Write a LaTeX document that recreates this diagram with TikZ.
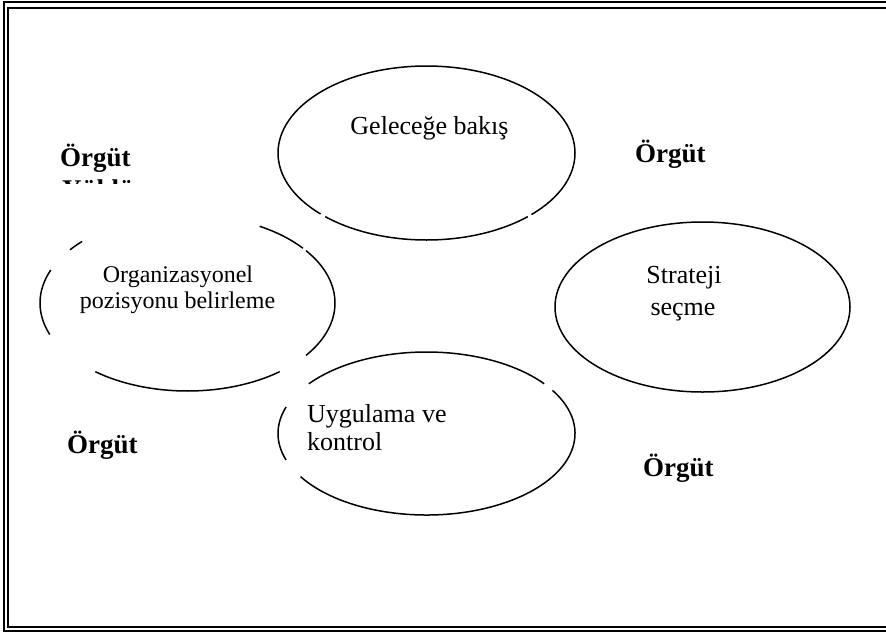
\documentclass[tikz,border=0pt]{standalone}
\usepackage{fontspec}
\setmainfont{Liberation Serif}
\newcommand{\ellarc}[6]{\draw[ell] ([shift={(#5:#3pt and #4pt)}]#1,#2) arc[start angle=#5,end angle=#6,x radius=#3pt,y radius=#4pt];}
\begin{document}
\begin{tikzpicture}[x=1pt,y=-1pt]
\tikzset{
 frameline/.style={line width=2pt,black},
 ell/.style={line width=1.5pt,black},
 lbl/.style={inner sep=0pt,font=\fontsize{26}{28}\selectfont},
 smalllbl/.style={inner sep=0pt,font=\fontsize{24}{26}\selectfont},
 orglbl/.style={inner sep=0pt,font=\bfseries\fontsize{27}{29}\selectfont,anchor=base west},
}
\useasboundingbox (0,0) rectangle (886,632);
\fill[white] (0,0) rectangle (886,632);
% frame
\draw[frameline] (3.5,2) rectangle (896,631);
\draw[frameline] (7.5,7.5) rectangle (892,627);
% ellipse 1: Gelecege bakis
\ellarc{426.5}{153}{148.5}{87}{227}{313}
\ellarc{426.5}{153}{148.5}{87}{315}{584.5}
% ellipse 2: Organizasyonel
\ellarc{187.5}{303}{147.5}{88}{135.6}{142.8}
\ellarc{187.5}{303}{147.5}{88}{158}{201}
\ellarc{187.5}{303}{147.5}{88}{231.3}{308.7}
\ellarc{187.5}{303}{147.5}{88}{-36.5}{36.5}
\ellarc{187.5}{303}{147.5}{88}{38.5}{60.7}
% ellipse 3: Strateji
\ellarc{702.5}{307}{147.5}{85}{0}{360}
% ellipse 4: Uygulama
\ellarc{426.5}{433.5}{148.5}{81.5}{37.6}{142.4}
\ellarc{426.5}{433.5}{148.5}{81.5}{161}{199}
\ellarc{426.5}{433.5}{148.5}{81.5}{212}{392}
% texts
\node[lbl,anchor=base] (gb) at (429.5,134) {Geleceğe bakış};
\node[smalllbl,anchor=base] (org1) at (178,282) {Organizasyonel};
\node[smalllbl,anchor=base] (org2) at (177.5,308) {pozisyonu belirleme};
\node[lbl,anchor=base] (st1) at (684,283) {Strateji};
\node[lbl,anchor=base] (st2) at (683,315) {seçme};
\node[lbl,anchor=base west] (uy1) at (307,422) {Uygulama ve};
\node[lbl,anchor=base west] (uy2) at (307,450) {kontrol};
% Orgut labels
\node[orglbl] (o1) at (60,166) {Örgüt};
\begin{scope}
\clip (0,0) rectangle (886,183);
\node[orglbl] (o1b) at (62,198.5) {Yüklü};
\end{scope}
\node[orglbl] (o2) at (635,162) {Örgüt};
\node[orglbl] (o3) at (67,453) {Örgüt};
\node[orglbl] (o4) at (643,476) {Örgüt};
\end{tikzpicture}
\end{document}
